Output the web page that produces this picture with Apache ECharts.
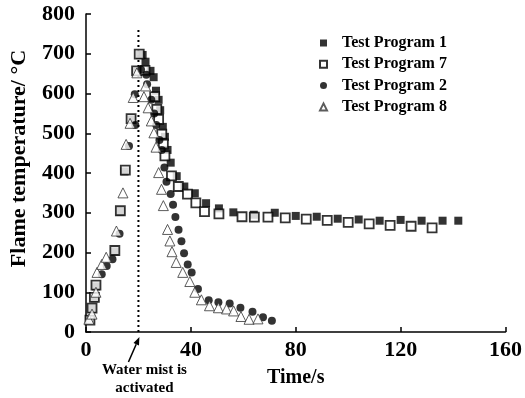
<!DOCTYPE html>
<html>
<head>
<meta charset="utf-8">
<script src="https://cdn.jsdelivr.net/npm/echarts@6/dist/echarts.min.js"></script>
<style>html,body{margin:0;padding:0;background:#fff}#c{width:525px;height:398px}</style>
</head>
<body>
<div id="c"></div>
<script>
// ---- data ----
const xTicks = [0, 40, 80, 120, 160];
const yTicks = [0, 100, 200, 300, 400, 500, 600, 700, 800];
const seriesNames = ['Test Program 1', 'Test Program 7', 'Test Program 2', 'Test Program 8'];

const tp1Time = [1.5, 2.3, 3.2, 3.8, 11.0, 13.1, 14.7, 17.4, 19.3, 20.6, 21.6, 22.7, 24.6, 25.8, 26.7, 27.7, 28.3, 29.3, 30.1, 31.1, 32.3, 34.6, 37.5, 41.5, 45.8, 50.7, 56.2, 64, 72, 80, 88, 96, 104, 112, 120, 128, 136, 142];
const tp1Temp = [30, 58, 85, 115, 203, 303, 404, 535, 655, 697, 697, 680, 657, 641, 607, 584, 558, 516, 491, 458, 426, 392, 366, 349, 324, 311, 301, 295, 300, 292, 290, 285, 283, 280, 282, 280, 280, 280];

const tp7Time = [1.5, 2.3, 3.2, 3.8, 11.0, 13.1, 15.0, 17.2, 19.3, 20.3, 22.5, 26.2, 27.0, 27.7, 28.9, 29.5, 30.1, 32.6, 35.2, 38.7, 41.9, 45.2, 50.7, 59.5, 64.2, 69.4, 76, 84, 92, 100, 108, 116, 124, 132];
const tp7Temp = [30, 60, 87, 118, 205, 305, 407, 537, 657, 699, 658, 592, 560, 535, 498, 473, 443, 393, 366, 347, 325, 303, 297, 290, 289, 289, 287, 284, 281, 276, 272, 268, 266, 262];

const tp2Time = [6.0, 7.9, 10.1, 12.8, 16.4, 18.8, 18.6, 21.0, 23.0, 23.3, 24.9, 26.0, 26.8, 28.0, 28.9, 29.9, 30.7, 32.3, 33.2, 34.1, 35.3, 36.4, 37.4, 38.8, 40.3, 42.7, 46.8, 50.5, 54.8, 58.9, 63.5, 67.5, 70.9];
const tp2Temp = [145, 166, 183, 247, 468, 521, 598, 660, 647, 623, 584, 550, 521, 483, 458, 414, 378, 347, 320, 289, 257, 228, 198, 170, 150, 108, 80, 75, 72, 61, 51, 37, 28];

const tp8Time = [1.1, 2.3, 3.8, 4.2, 6.0, 7.7, 11.6, 14.1, 15.3, 16.8, 18.0, 19.4, 22.1, 22.7, 23.7, 24.9, 25.9, 26.7, 27.7, 28.8, 29.5, 31.1, 32.0, 32.8, 34.4, 36.9, 39.6, 41.5, 44.0, 47.1, 50.5, 53.6, 56.3, 59.1, 62.2, 65.6];
const tp8Temp = [32, 45, 100, 150, 170, 188, 254, 350, 472, 525, 590, 652, 592, 619, 564, 531, 501, 465, 401, 359, 318, 258, 229, 202, 175, 150, 127, 100, 81, 66, 61, 58, 53, 39, 32, 33];

const mistTime = 20;          // water mist activation time (s)
const mistLineTop = 760;      // top of dotted marker line

// ---- chart ----
const pairs = (xs, ys) => xs.map((x, i) => [x, ys[i]]);
const FONT = '"Liberation Serif", "Times New Roman", serif';
const chart = echarts.init(document.getElementById('c'), null, {renderer: 'canvas'});

const axisCommon = {
  axisLine: {show: true, onZero: false, lineStyle: {color: '#000', width: 1.5}},
  axisTick: {show: true, inside: true, length: 5, lineStyle: {color: '#000', width: 1.5}},
  splitLine: {show: false},
  axisLabel: {color: '#000', fontFamily: FONT, fontWeight: 'bold', fontSize: 22}
};

chart.setOption({
  animation: false,
  backgroundColor: '#fff',
  grid: {left: 82, right: 11, top: 14, bottom: 66, containLabel: false},
  xAxis: Object.assign({}, axisCommon, {
    type: 'value', min: xTicks[0], max: xTicks[xTicks.length - 1], interval: xTicks[1] - xTicks[0],
    name: 'Time/s', nameLocation: 'middle', nameGap: 36,
    nameTextStyle: {color: '#000', fontFamily: FONT, fontWeight: 'bold', fontSize: 20},
    axisLabel: Object.assign({}, axisCommon.axisLabel, {margin: 7})
  }),
  yAxis: Object.assign({}, axisCommon, {
    type: 'value', min: yTicks[0], max: yTicks[yTicks.length - 1], interval: yTicks[1] - yTicks[0],
    name: 'Flame temperature/ °C', nameLocation: 'middle', nameGap: 56, nameRotate: 90,
    nameTextStyle: {color: '#000', fontFamily: FONT, fontWeight: 'bold', fontSize: 22, padding: [0, 0, 0, 29]},
    axisLabel: Object.assign({}, axisCommon.axisLabel, {margin: 11})
  }),
  legend: {
    data: seriesNames,
    orient: 'vertical', left: 319, top: 35, padding: 0,
    itemWidth: 7, itemHeight: 7, itemGap: 5.3,
    textStyle: {color: '#000', fontFamily: FONT, fontWeight: 'bold', fontSize: 16, lineHeight: 16, padding: [0, 0, 0, 10]}
  },
  series: [
    {
      name: 'mist', type: 'line', data: [[mistTime, 0], [mistTime, mistLineTop]], symbol: 'none',
      lineStyle: {color: '#000', width: 2, type: [2, 3]}, silent: true, z: 1
    },
    {
      name: seriesNames[0], type: 'scatter', data: pairs(tp1Time, tp1Temp), symbol: 'rect', symbolSize: 8,
      itemStyle: {color: '#000'}, z: 2
    },
    {
      name: seriesNames[1], type: 'scatter', data: pairs(tp7Time, tp7Temp), symbol: 'rect', symbolSize: 9,
      itemStyle: {color: '#fff', borderColor: '#000', borderWidth: 1.8}, z: 3
    },
    {
      name: seriesNames[2], type: 'scatter', data: pairs(tp2Time, tp2Temp), symbol: 'circle', symbolSize: 8,
      itemStyle: {color: '#000'}, z: 4
    },
    {
      name: seriesNames[3], type: 'scatter', data: pairs(tp8Time, tp8Temp), symbol: 'triangle', symbolSize: 10,
      itemStyle: {color: '#fff', borderColor: '#333', borderWidth: 1}, z: 5
    }
  ]
});

// annotation arrow + text anchored at the mist line foot
const p0 = chart.convertToPixel({gridIndex: 0}, [mistTime, 0]);
const tip = [p0[0] + 1, p0[1] + 5];
const tail = [p0[0] - 10, p0[1] + 30];
const ang = Math.atan2(tip[1] - tail[1], tip[0] - tail[0]);
const hl = 8, hw = 3;
const bx = tip[0] - hl * Math.cos(ang), by = tip[1] - hl * Math.sin(ang);
const head = [tip, [bx + hw * Math.sin(ang), by - hw * Math.cos(ang)], [bx - hw * Math.sin(ang), by + hw * Math.cos(ang)]];
chart.setOption({
  graphic: [
    {type: 'line', shape: {x1: tail[0], y1: tail[1], x2: bx, y2: by}, style: {stroke: '#000', lineWidth: 1.5}},
    {type: 'polygon', shape: {points: head}, style: {fill: '#000'}},
    {type: 'text', x: p0[0] + 6, y: p0[1] + 38, style: {text: 'Water mist is', fill: '#000', font: 'bold 15px ' + FONT, textAlign: 'center', textVerticalAlign: 'middle'}},
    {type: 'text', x: p0[0] + 6, y: p0[1] + 56, style: {text: 'activated', fill: '#000', font: 'bold 15px ' + FONT, textAlign: 'center', textVerticalAlign: 'middle'}}
  ]
});
</script>
</body>
</html>
